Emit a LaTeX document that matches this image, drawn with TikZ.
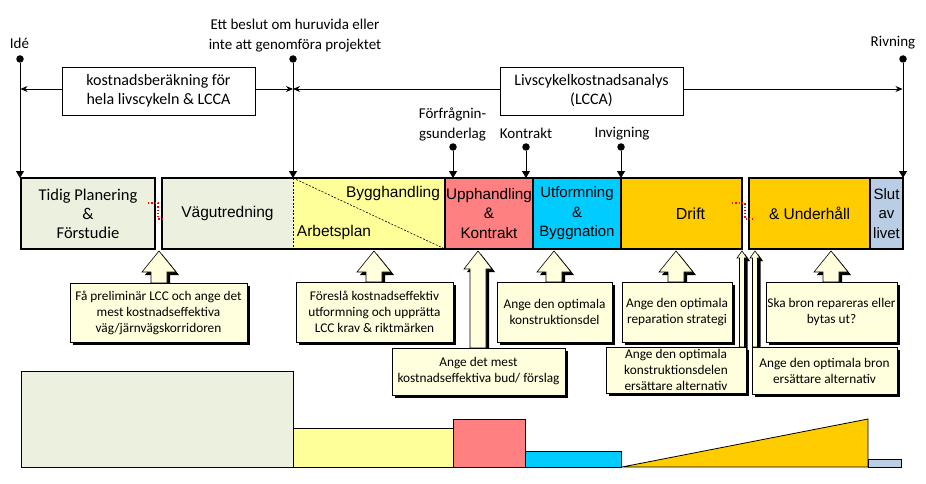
\documentclass[tikz,border=0pt]{standalone}
\usepackage{fontspec}
\setmainfont{Carlito}
\newfontfamily\arialf{Liberation Sans}
\usetikzlibrary{arrows.meta,shadows}
\definecolor{gfill}{HTML}{EBF1DE}
\definecolor{yfill}{HTML}{FFFF99}
\definecolor{rfill}{HTML}{FF8080}
\definecolor{cfill}{HTML}{00CCFF}
\definecolor{ofill}{HTML}{FFCC00}
\definecolor{bfill}{HTML}{B9CDE5}
\definecolor{callf}{HTML}{FFFFDD}
\tikzset{
  toplbl/.style={font=\fontsize{15}{20}\selectfont, inner sep=0pt, align=center},
  barlbl/.style={font=\arialf\fontsize{15.5}{19.5}\selectfont, inner sep=0pt, align=center},
  seg/.style={inner sep=0pt, outer sep=0pt, minimum height=71pt, align=center},
  lccabox/.style={draw, fill=white, line width=0.8pt, font=\fontsize{16}{19}\selectfont, align=center, inner sep=0pt},
  shad/.style={drop shadow={shadow xshift=3pt, shadow yshift=-3pt, opacity=1, fill=black}},
  callbox/.style={shad, draw, line width=0.6pt, fill=callf, font=\fontsize{13.3}{16}\selectfont, align=center, inner sep=0pt},
  callarr/.style={shad, draw, line width=0.6pt, fill=callf},
  pinarr/.style={line width=0.9pt, -{Triangle[length=7pt,width=8pt]}},
  spanarr/.style={line width=0.8pt, {Stealth[length=7pt,width=6pt]}-{Stealth[length=7pt,width=6pt]}},
  dotc/.style={circle, fill=black, inner sep=0pt, minimum size=7.5pt},
  barline/.style={line width=2.2pt},
  chart/.style={draw, line width=0.8pt},
  brk/.style={red, dotted, line width=1.3pt},
  thindash/.style={line width=0.6pt, dash pattern=on 2pt off 1.5pt},
}
\newcommand\callarrow[6]{%
  \path[callarr] (#1,#2) -- ({#1+#4},#3) -- ({#1+#5},#3) -- ({#1+#5},#6) -- ({#1-#5},#6) -- ({#1-#5},#3) -- ({#1-#4},#3) -- cycle;}
\begin{document}
\begin{tikzpicture}[x=1pt,y=-1pt]
\useasboundingbox (0,0) rectangle (926,484);

% top labels
\node[toplbl] (ide) at (19.5,43) {Idé};
\node[toplbl] (beslut) at (295,36) {Ett beslut om huruvida eller\\inte att genomföra projektet};
\node[toplbl] (riv) at (893,43) {Rivning};
\node[toplbl] (forf) at (452.5,124) {Förfrågnin-\\gsunderlag};
\node[toplbl] (kon) at (526,133.5) {Kontrakt};
\node[toplbl] (inv) at (622,133.5) {Invigning};

% dots
\node[dotc] (dide) at (20,59) {};
\node[dotc] (dbes) at (293,59) {};
\node[dotc] (driv) at (903,59) {};
\node[dotc] (dforf) at (453,147) {};
\node[dotc] (dkon) at (526,147) {};
\node[dotc] (dinv) at (621,147) {};

% bar segments
\node[seg, fill=gfill, minimum width=134pt, font=\fontsize{16.5}{19}\selectfont] (s1) at (88,213.5) {Tidig Planering\\[0pt]\&\\Förstudie};
\node[seg, fill=gfill, minimum width=131pt, font=\arialf\fontsize{15.5}{19.5}\selectfont] (s2) at (227.5,213.5) {Vägutredning};
\node[seg, fill=yfill, minimum width=152pt] (s3) at (369,213.5) {};
\node[seg, fill=rfill, minimum width=88pt, font=\arialf\fontsize{15.3}{19.5}\selectfont] (s4) at (489,213.5) {Upphandling\\\&\\Kontrakt};
\node[seg, fill=cfill, minimum width=88pt, font=\arialf\fontsize{15}{19.5}\selectfont] (s5) at (577,213.5) {Utformning\\\&\\Byggnation};
\node[seg, fill=ofill, minimum width=121pt, font=\arialf\fontsize{16}{19.5}\selectfont] (s6) at (681.5,213.5) {\hspace*{18pt}Drift};
\node[seg, fill=ofill, minimum width=121pt, font=\arialf\fontsize{15.5}{19.5}\selectfont] (s7) at (809.5,213.5) {\& Underhåll};
\node[seg, fill=bfill, minimum width=33pt, font=\arialf\fontsize{15}{19.5}\selectfont] (s8) at (886.5,213.5) {Slut\\av\\livet};
\node[barlbl] (bygg) at (393,193) {Bygghandling};
\node[barlbl] (arb) at (334,232) {Arbetsplan};
\draw[thindash] (s3.north west) -- (s3.south west);
\draw[thindash] (s3.north west) -- (s3.south east);
\draw[barline] (s1.north west) rectangle (s1.south east);
\draw[barline] (s2.north west) rectangle (s6.south east);
\draw[barline] (s7.north west) rectangle (s8.south east);
\draw[barline] (s4.north west) -- (s4.south west) (s5.north west) -- (s5.south west)
  (s6.north west) -- (s6.south west) (s8.north west) -- (s8.south west);

% break markers
\draw[brk] (148,203) -- (158,203) -- (158,219) -- (163,219);
\draw[brk] (732,203) -- (745,203) -- (745,219) -- (753,219);

% timeline connectors
\coordinate (tide) at (20,178);
\coordinate (tbes) at (293,178);
\coordinate (triv) at (903,178);
\coordinate (tforf) at (453,178);
\coordinate (tkon) at (526,178);
\coordinate (tinv) at (621,178);
\draw[pinarr] (dide) -- (tide);
\draw[pinarr] (dbes) -- (tbes);
\draw[pinarr] (driv) -- (triv);
\draw[pinarr] (dforf) -- (tforf);
\draw[pinarr] (dkon) -- (tkon);
\draw[pinarr] (dinv) -- (tinv);

\coordinate (hl) at (20.5,89);
\coordinate (hm) at (293,89);
\coordinate (hr) at (902.5,89);
\draw[spanarr] (hl) -- (hm);
\draw[spanarr] (hm) -- (hr);
\node[lccabox, minimum width=193pt, minimum height=48pt] (lc1) at (158.5,91) {kostnadsberäkning för\\hela livscykeln \& LCCA};
\node[lccabox, minimum width=183pt, minimum height=48pt] (lc2) at (591.5,91) {Livscykelkostnadsanalys\\(LCCA)};

% callout arrows
\callarrow{159}{251}{272}{17}{8}{283}
\callarrow{374}{251}{272}{17}{8}{282}
\callarrow{478}{251}{269}{14}{8}{348}
\callarrow{554}{251}{272}{17}{8}{282}
\callarrow{676}{251}{272}{17}{8}{282}
\callarrow{742}{251}{258}{5}{2.5}{347}
\callarrow{755}{251}{258}{5}{2.5}{347}
\callarrow{831}{251}{272}{17}{8}{282}

% callout boxes
\node[callbox, minimum width=177pt, minimum height=59pt] (c1) at (158.5,312.5) {Få preliminär LCC och ange det\\mest kostnadseffektiva\\väg/järnvägskorridoren};
\node[callbox, minimum width=157pt, minimum height=60pt] (c2) at (374.5,312) {Föreslå kostnadseffektiv\\utformning och upprätta\\LCC krav \& riktmärken};
\node[callbox, minimum width=173pt, minimum height=47pt] (c3) at (478.5,371.5) {Ange det mest\\kostnadseffektiva bud/ förslag};
\node[callbox, minimum width=115pt, minimum height=60pt] (c4) at (554.5,312) {Ange den optimala\\konstruktionsdel};
\node[callbox, minimum width=110pt, minimum height=60pt] (c5) at (677,312) {Ange den optimala\\reparation strategi};
\node[callbox, minimum width=140pt, minimum height=46pt] (c6) at (676,370) {Ange den optimala\\konstruktionsdelen\\ersättare alternativ};
\node[callbox, minimum width=131pt, minimum height=60pt] (c7) at (831.5,312) {Ska bron repareras eller\\bytas ut?};
\node[callbox, minimum width=145pt, minimum height=47pt] (c8) at (824.5,370.5) {Ange den optimala bron\\ersättare alternativ};

% cost chart
\draw[chart, fill=gfill] (21,371) rectangle (293,467);
\draw[chart, fill=yfill] (293,428) rectangle (453,467);
\draw[chart, fill=rfill] (453,419) rectangle (525,467);
\draw[chart, fill=cfill] (525,451) rectangle (621,467);
\draw[chart, fill=ofill] (622,467) -- (868,419) -- (868,467) -- cycle;
\draw[chart, fill=bfill] (868,459) rectangle (901,467);
\end{tikzpicture}
\end{document}
